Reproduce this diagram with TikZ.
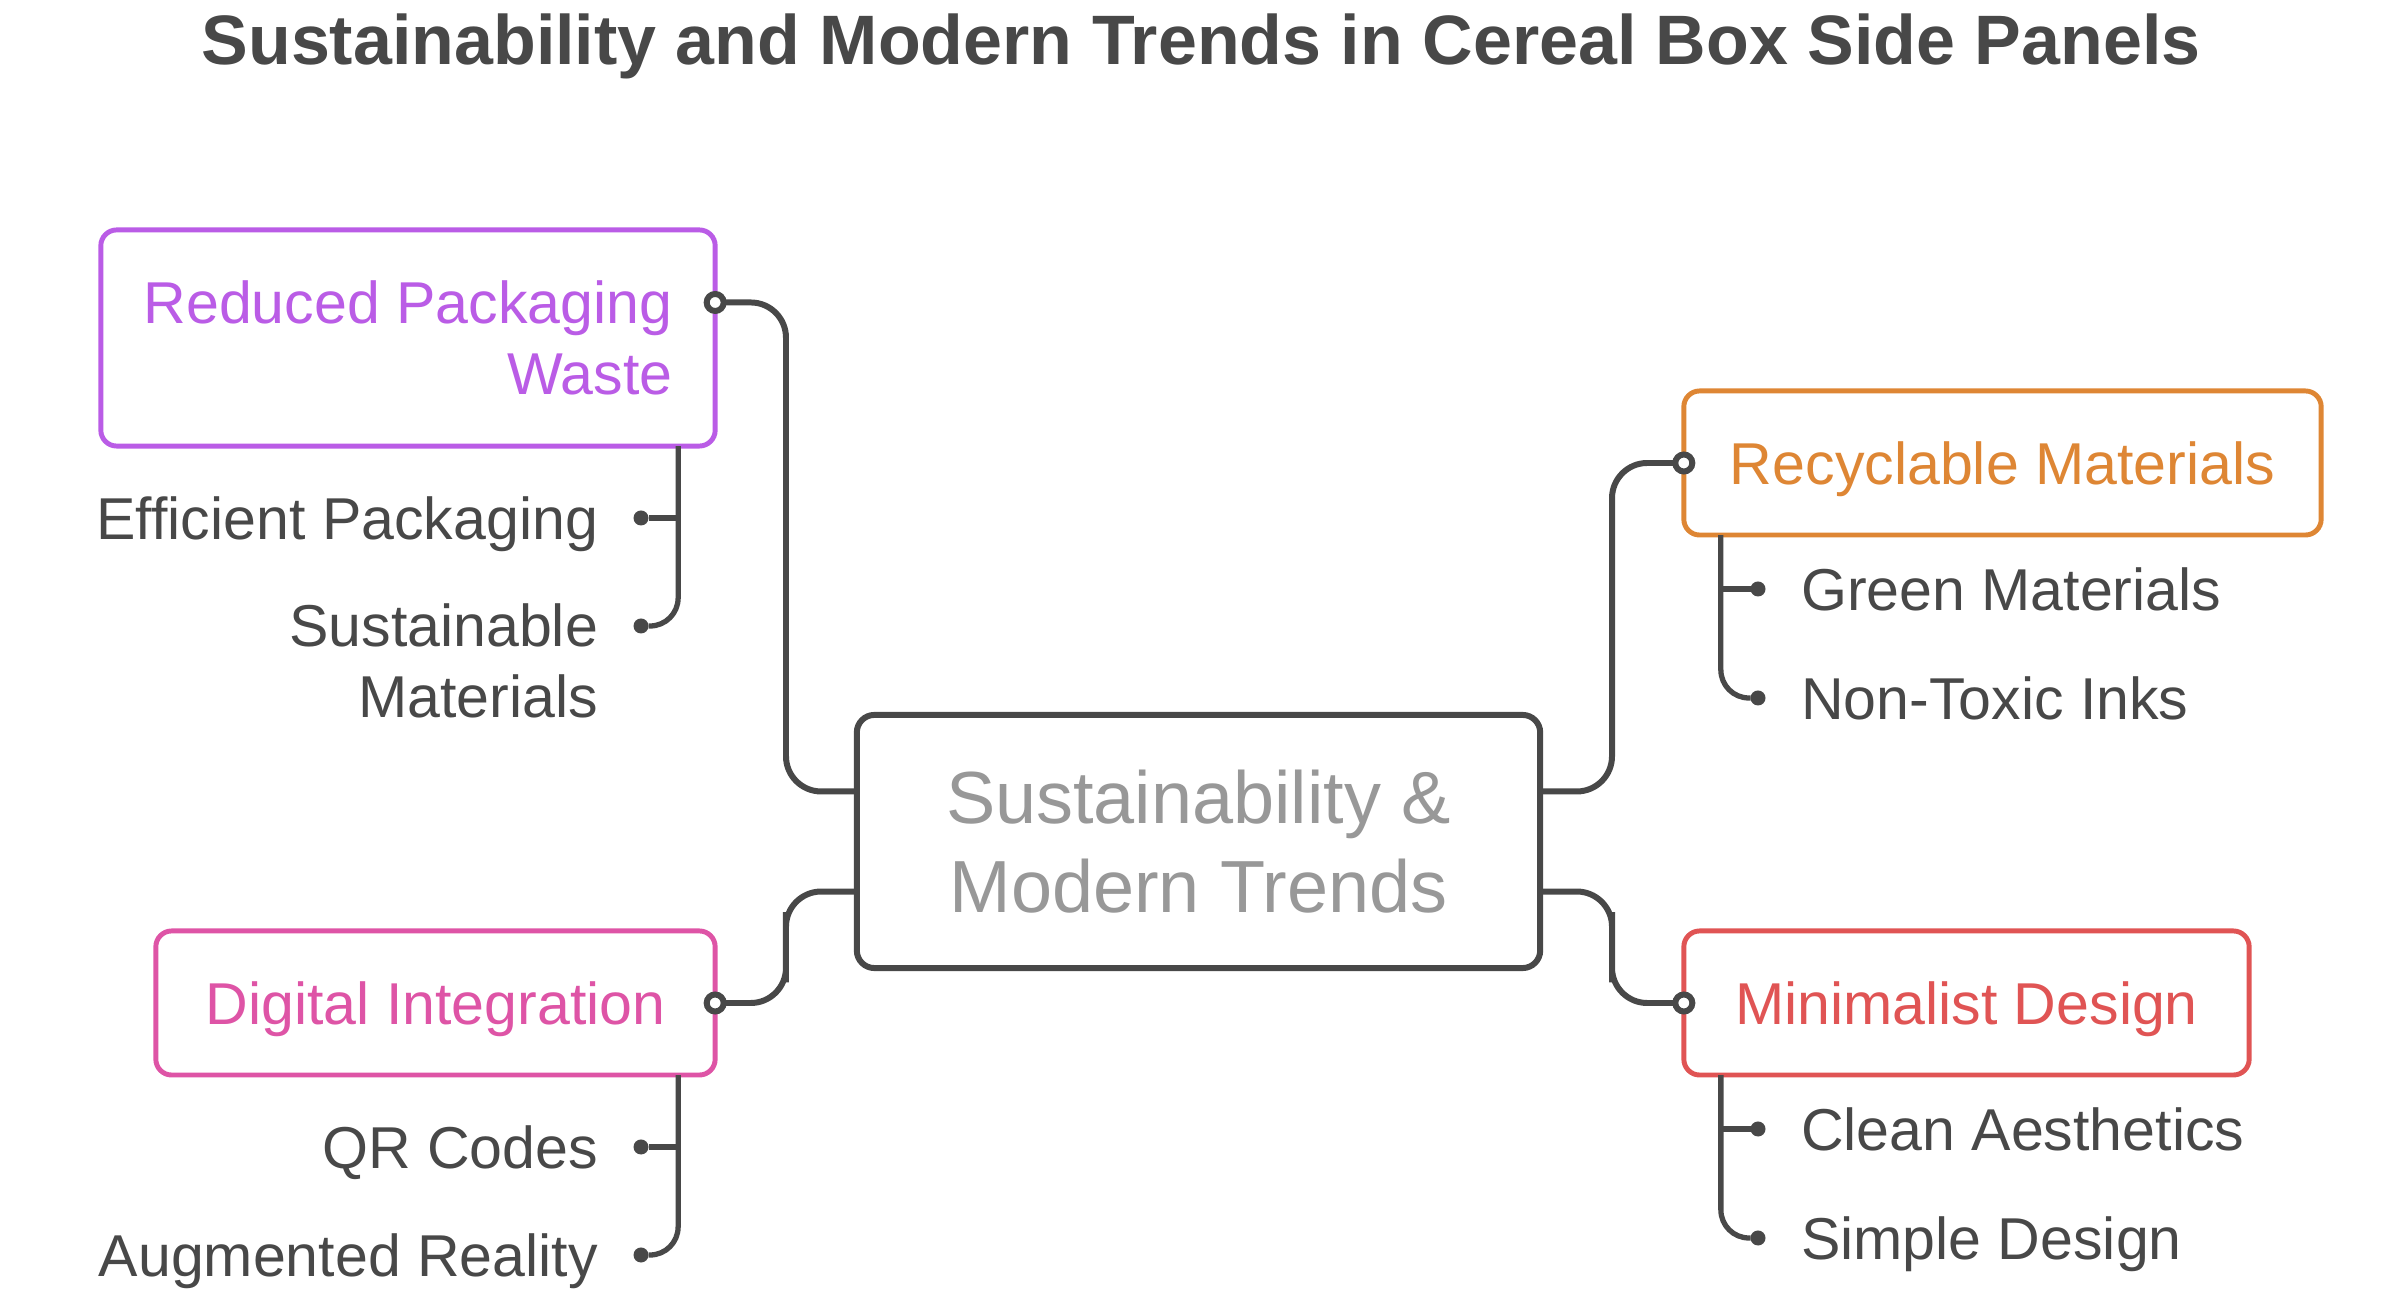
\documentclass[tikz,border=0pt]{standalone}
\usepackage{fontspec}
\setmainfont{Liberation Sans}
\usepackage{tikz}
\usetikzlibrary{positioning,calc}
\definecolor{ink}{RGB}{72,72,72}
\definecolor{hubgray}{RGB}{152,152,152}
\definecolor{wastepurple}{RGB}{186,92,230}
\definecolor{recycleorange}{RGB}{222,134,52}
\definecolor{minimalred}{RGB}{224,84,84}
\definecolor{digitalpink}{RGB}{222,84,166}
\newcommand{\leaffont}{\fontsize{16.8}{20.2}\selectfont}
\newcommand{\hubfont}{\fontsize{21}{25.3}\selectfont}
\newcommand{\headfont}{\fontsize{19.9}{24}\selectfont\bfseries}

\begin{document}
\begin{tikzpicture}[
  x=0.01cm, y=-0.01cm,
  every node/.style={inner sep=0pt, outer sep=0pt},
  topic/.style={draw, rounded corners=4.5pt, line width=1.4pt, fill=white, font=\leaffont, minimum height=1.44cm},
  oneline/.style={text height=12pt, text depth=0pt},
  hub/.style={draw=ink, rounded corners=5pt, line width=1.7pt, fill=white, font=\hubfont, text=hubgray, align=center},
  leaf/.style={font=\leaffont, text=ink, text height=12pt, text depth=0pt},
  leaftwo/.style={font=\leaffont, text=ink},
  port/.style={circle, draw=ink, fill=white, line width=1.7pt, minimum size=0.17cm},
  knot/.style={circle, fill=ink, minimum size=0.15cm},
  link/.style={ink, line width=1.7pt, rounded corners=10pt},
  twig/.style={ink, line width=1.5pt, rounded corners=8pt},
]
\useasboundingbox (0,0) rectangle (2405,1310);
% title
\node[font=\headfont, text=ink] (title) at (1201,46) {Sustainability and Modern Trends in Cereal Box Side Panels};
% hub
\node[hub, minimum width=6.83cm, minimum height=2.53cm] (hub) at (1198.5,841.5) {Sustainability \&\\Modern Trends};
% topics
\node[topic, draw=wastepurple, text=wastepurple, align=right, minimum width=6.14cm, minimum height=2.16cm] (waste) at (408,338) {Reduced Packaging\\Waste};
\node[topic, oneline, draw=digitalpink, text=digitalpink, minimum width=5.59cm] (digital) at (435.5,1003) {Digital Integration};
\node[topic, oneline, draw=recycleorange, text=recycleorange, minimum width=6.37cm] (recycle) at (2002.5,463) {Recyclable Materials};
\node[topic, oneline, draw=minimalred, text=minimalred, minimum width=5.65cm] (minimal) at (1966.5,1003) {Minimalist Design};
% ports on the topics
\node[port] (wasteport) at ([yshift=0.355cm]waste.east) {};
\node[port] (digitalport) at (digital.east) {};
\node[port] (recycleport) at (recycle.west) {};
\node[port] (minimalport) at (minimal.west) {};
% hub to topics
\coordinate (hubw1) at ([yshift=0.5cm]hub.west);
\coordinate (hubw2) at ([yshift=-0.5cm]hub.west);
\coordinate (hube1) at ([yshift=0.5cm]hub.east);
\coordinate (hube2) at ([yshift=-0.5cm]hub.east);
\draw[link] (wasteport) -| ($(wasteport)!.5!(hubw1)$) |- (hubw1);
\draw[link] (digitalport) -| ($(digitalport)!.5!(hubw2)$) |- (hubw2);
\draw[link] (hube1) -| ($(hube1)!.5!(recycleport)$) |- (recycleport);
\draw[link] (hube2) -| ($(hube2)!.5!(minimalport)$) |- (minimalport);
% left leaves
\node[knot] (wk1) at (641,518) {};
\node[knot] (wk2) at (641,626) {};
\node[knot] (dk1) at (641,1147) {};
\node[knot] (dk2) at (641,1255) {};
\node[leaf, left=3.55mm of wk1] (efficient) {Efficient Packaging};
\node[leaftwo, align=right, left=3.55mm of wk2, yshift=-0.347cm] (sustainable) {Sustainable\\Materials};
\node[leaf, left=3.55mm of dk1] (qrcodes) {QR Codes};
\node[leaf, left=3.55mm of dk2] (augmented) {Augmented Reality};
% right leaves
\node[knot] (rk1) at (1758,589) {};
\node[knot] (rk2) at (1758,698) {};
\node[knot] (mk1) at (1758,1129) {};
\node[knot] (mk2) at (1758,1238) {};
\node[leaf, right=3.55mm of rk1] (green) {Green Materials};
\node[leaf, right=3.55mm of rk2] (inks) {Non-Toxic Inks};
\node[leaf, right=3.55mm of mk1] (clean) {Clean Aesthetics};
\node[leaf, right=3.55mm of mk2] (simple) {Simple Design};
% spines
\coordinate (wastespine) at ([xshift=-0.37cm]waste.south east);
\coordinate (digitalspine) at ([xshift=-0.37cm]digital.south east);
\coordinate (recyclespine) at ([xshift=0.37cm]recycle.south west);
\coordinate (minimalspine) at ([xshift=0.37cm]minimal.south west);
\draw[twig] (wastespine) |- (wk2);
\draw[twig] (wastespine |- wk1) -- (wk1);
\draw[twig] (digitalspine) |- (dk2);
\draw[twig] (digitalspine |- dk1) -- (dk1);
\draw[twig] (recyclespine) |- (rk2);
\draw[twig] (recyclespine |- rk1) -- (rk1);
\draw[twig] (minimalspine) |- (mk2);
\draw[twig] (minimalspine |- mk1) -- (mk1);
\end{tikzpicture}
\end{document}
